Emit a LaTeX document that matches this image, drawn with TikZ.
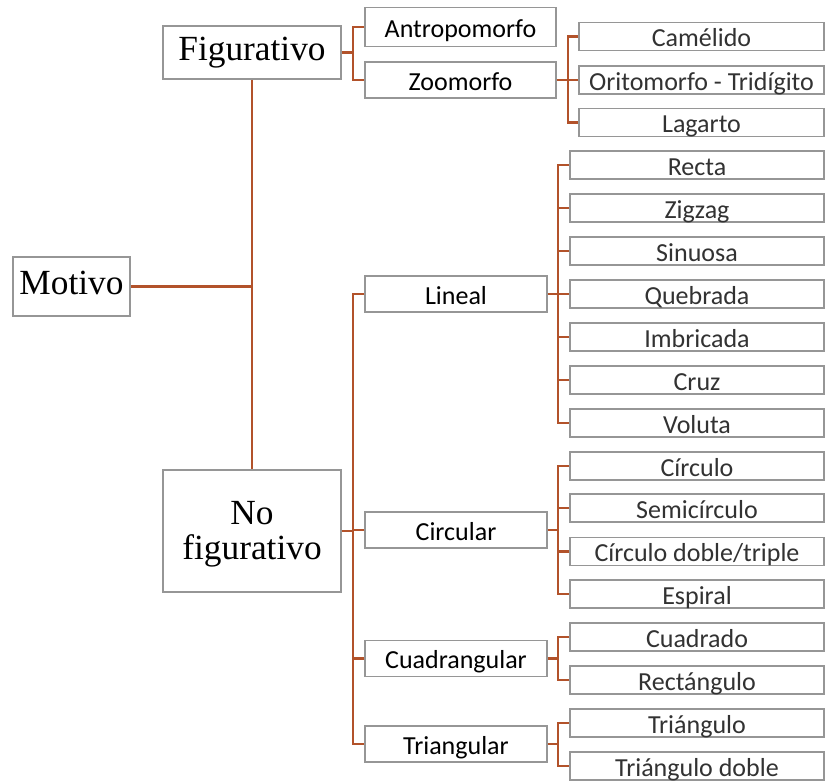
\documentclass[tikz,border=0pt]{standalone}
\usepackage{fontspec}
\setmainfont{Liberation Serif}
\newfontfamily\calibri{Carlito}
\definecolor{rama}{RGB}{178,82,42}
\definecolor{borde}{RGB}{150,150,150}
\definecolor{hoja}{RGB}{50,50,50}

\begin{document}
\begin{tikzpicture}[
    x=0.75pt, y=-0.75pt,
    caja/.style={draw=borde, line width=0.8pt, fill=white, inner sep=0pt, align=center},
    raiz/.style={caja, font=\fontsize{26.5}{26.5}\selectfont, text height=18.5pt, text depth=5.8pt},
    tipo/.style={caja, font=\calibri\fontsize{19.5}{22}\selectfont,
        text height=15pt, text depth=0pt,
        minimum width=136.5pt, minimum height=27pt},
    hojabox/.style={tipo, text=hoja, minimum width=190.5pt, minimum height=21pt},
    rama/.style={draw=rama, line width=2pt}
]
    \useasboundingbox (0,0) rectangle (825,783);

    % primer nivel
    \node[raiz, minimum width=87.75pt, minimum height=44.25pt] (motivo) at (71.5,286.5) {Motivo};
    \node[raiz, minimum width=133.5pt, minimum height=39.75pt] (fig) at (252,52.5) {Figurativo};
    \node[caja, minimum width=133.5pt, minimum height=91.5pt] (nofig) at (252,531) {};
    \node[align=center, inner sep=0pt, font=\fontsize{26.5}{26.5}\selectfont, yshift=-2.5pt]
        (nofigtxt) at (nofig) {No\\figurativo};

    % figurativo
    \node[tipo, minimum width=143.25pt, minimum height=29pt] (antro) at (460.5,27) {Antropomorfo};
    \node[tipo, minimum width=143.25pt] (zoo) at (460.5,80) {Zoomorfo};
    \foreach \t/\y [count=\i] in {Camélido/36.5, {Oritomorfo - Tridígito}/80, Lagarto/122.5}
        \node[hojabox, minimum width=183.75pt] (zoo\i) at (701.5,\y) {\t};

    % no figurativo
    \node[tipo] (lineal) at (456,294) {Lineal};
    \node[tipo] (circ) at (456,530) {Circular};
    \node[tipo] (cuad) at (456,658.5) {Cuadrangular};
    \node[tipo] (tri) at (456,744) {Triangular};

    \foreach \t/\y [count=\i] in {Recta/165, Zigzag/208, Sinuosa/251, Quebrada/294,
            Imbricada/337, Cruz/380, Voluta/423}
        \node[hojabox] (lin\i) at (697,\y) {\t};
    \foreach \t/\y [count=\i] in {Círculo/466, Semicírculo/508,
            {Círculo doble/triple}/551.5, Espiral/594}
        \node[hojabox] (cir\i) at (697,\y) {\t};
    \foreach \t/\y [count=\i] in {Cuadrado/637, Rectángulo/680}
        \node[hojabox] (cua\i) at (697,\y) {\t};
    \foreach \t/\y [count=\i] in {Triángulo/723, {Triángulo doble}/766}
        \node[hojabox] (tr\i) at (697,\y) {\t};

    % conectores
    \coordinate (f1) at (353,0);
    \coordinate (f2) at (568,0);
    \coordinate (f3) at (558,0);

    \draw[rama] (fig.south) -- (nofig.north);
    \draw[rama] (motivo.east) -- (motivo.east -| fig.south);

    \draw[rama] (fig.east) -- (fig.east -| f1);
    \draw[rama] (antro.west) -| (f1 |- fig.east) |- (zoo.west);

    \draw[rama] (nofig.east) -- (nofig.east -| f1);
    \draw[rama] (lineal.west) -| (f1 |- tri.west) -- (tri.west);
    \foreach \n in {circ,cuad}
        \draw[rama] (\n.west) -- (\n.west -| f1);

    \draw[rama] (zoo.east) -- (zoo.east -| f2);
    \draw[rama] (zoo1.west) -| (f2 |- zoo3.west) -- (zoo3.west);
    \draw[rama] (zoo2.west) -- (zoo2.west -| f2);

    \draw[rama] (lin1.west) -| (f3 |- lin7.west) -- (lin7.west);
    \draw[rama] (lineal.east) -- (lineal.east -| f3);
    \foreach \i in {2,...,6}
        \draw[rama] (lin\i.west) -- (lin\i.west -| f3);

    \draw[rama] (cir1.west) -| (f3 |- cir4.west) -- (cir4.west);
    \draw[rama] (circ.east) -- (circ.east -| f3);
    \foreach \i in {2,3}
        \draw[rama] (cir\i.west) -- (cir\i.west -| f3);

    \draw[rama] (cua1.west) -| (f3 |- cua2.west) -- (cua2.west);
    \draw[rama] (cuad.east) -- (cuad.east -| f3);

    \draw[rama] (tr1.west) -| (f3 |- tr2.west) -- (tr2.west);
    \draw[rama] (tri.east) -- (tri.east -| f3);
\end{tikzpicture}
\end{document}
